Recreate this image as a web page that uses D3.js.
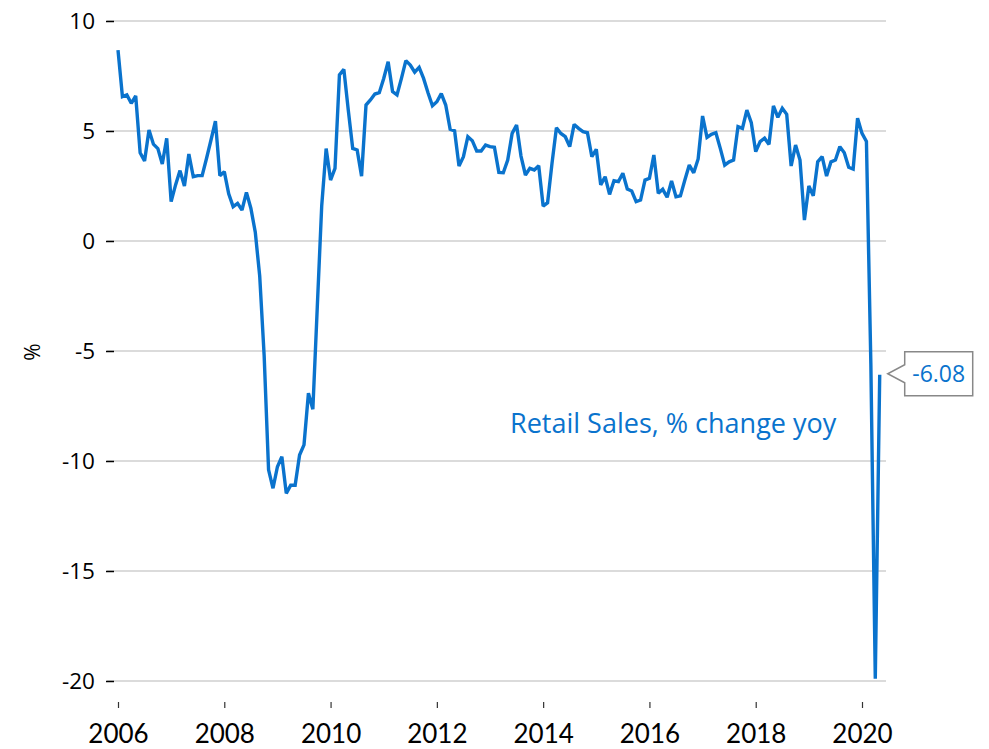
<!DOCTYPE html>
<html>
<head>
<meta charset="utf-8">
<script src="https://cdn.jsdelivr.net/npm/d3@7"></script>
<style>
  html, body { margin: 0; padding: 0; background: #ffffff; }
  svg { display: block; }
</style>
</head>
<body>
<div id="chart"></div>
<script>
// ---- Data (monthly, Jan 2006 .. May 2020) ----
const startYear = 2006;
const seriesName = "Retail Sales, % change yoy";
const yoy2006 = [8.68, 6.56, 6.64, 6.26, 6.60, 4.01, 3.64, 5.05, 4.40, 4.20, 3.50, 4.67];
const yoy2007 = [1.79, 2.55, 3.20, 2.50, 3.95, 2.92, 2.97, 2.97, 3.76, 4.59, 5.45, 2.97];
const yoy2008 = [3.15, 2.14, 1.56, 1.71, 1.41, 2.21, 1.49, 0.40, -1.60, -5.20, -10.40, -11.24];
const yoy2009 = [-10.26, -9.80, -11.47, -11.10, -11.10, -9.73, -9.27, -6.92, -7.65, -3.00, 1.60, 4.20];
const yoy2010 = [2.77, 3.30, 7.55, 7.80, 5.95, 4.21, 4.14, 2.95, 6.18, 6.41, 6.68, 6.74];
const yoy2011 = [7.39, 8.15, 6.79, 6.64, 7.39, 8.20, 8.00, 7.67, 7.89, 7.39, 6.74, 6.15];
const yoy2012 = [6.33, 6.70, 6.18, 5.08, 5.01, 3.41, 3.83, 4.74, 4.56, 4.09, 4.09, 4.36];
const yoy2013 = [4.29, 4.26, 3.12, 3.10, 3.68, 4.89, 5.27, 3.86, 3.00, 3.30, 3.23, 3.42];
const yoy2014 = [1.59, 1.74, 3.53, 5.15, 4.89, 4.74, 4.29, 5.30, 5.12, 4.97, 4.92, 3.83];
const yoy2015 = [4.17, 2.55, 2.92, 2.12, 2.74, 2.70, 3.08, 2.36, 2.27, 1.79, 1.86, 2.77];
const yoy2016 = [2.85, 3.91, 2.17, 2.35, 1.99, 2.73, 2.01, 2.05, 2.77, 3.45, 3.10, 3.73];
const yoy2017 = [5.68, 4.71, 4.85, 4.92, 4.21, 3.45, 3.60, 3.68, 5.20, 5.12, 5.95, 5.38];
const yoy2018 = [4.06, 4.52, 4.67, 4.39, 6.14, 5.62, 6.03, 5.76, 3.41, 4.36, 3.68, 0.95];
const yoy2019 = [2.50, 2.05, 3.60, 3.83, 2.95, 3.60, 3.68, 4.29, 4.01, 3.35, 3.27, 5.58];
const yoy2020 = [4.89, 4.52, -5.60, -19.90, -6.08];

const xTickValues = [2006, 2008, 2010, 2012, 2014, 2016, 2018, 2020];
const yTickValues = [10, 5, 0, -5, -10, -15, -20];
const yAxisTitle = "%";

// ---- Build series ----
const allValues = [].concat(yoy2006, yoy2007, yoy2008, yoy2009, yoy2010, yoy2011,
  yoy2012, yoy2013, yoy2014, yoy2015, yoy2016, yoy2017, yoy2018, yoy2019, yoy2020);
const data = allValues.map((v, i) => ({ t: startYear + i / 12, v: v }));

// ---- Layout ----
const W = 989, H = 749;
const blue = "#0A73CD";
const svg = d3.select("#chart").append("svg").attr("width", W).attr("height", H);

const x = d3.scaleLinear().domain([2006, 2020]).range([118, 862]);
const y = d3.scaleLinear().domain([-20, 10]).range([681, 21]);
const gridLeft = 107, gridRight = 886;
const hyphenFmt = d => String(d);

// Gridlines
svg.append("g").selectAll("line").data(yTickValues).join("line")
  .attr("x1", gridLeft).attr("x2", gridRight)
  .attr("y1", d => y(d)).attr("y2", d => y(d))
  .attr("stroke", "#cfcfcf").attr("stroke-width", 1.5);

// Y axis
const yAxis = d3.axisLeft(y).tickValues(yTickValues).tickSize(8).tickPadding(11)
  .tickFormat(hyphenFmt);
const gy = svg.append("g").attr("transform", `translate(${gridLeft + 7},0)`).call(yAxis);
gy.select(".domain").remove();
gy.selectAll(".tick line").attr("stroke", "#000").attr("stroke-width", 1.5);
gy.selectAll(".tick text").attr("font-family", "'Open Sans', sans-serif")
  .attr("font-size", 22.5).attr("fill", "#000");

// Y title
svg.append("text").attr("transform", "translate(40,352) rotate(-90)")
  .attr("text-anchor", "middle").attr("font-family", "'Open Sans', sans-serif")
  .attr("font-size", 21).attr("fill", "#000").text(yAxisTitle);

// X axis
const xAxis = d3.axisBottom(x).tickValues(xTickValues).tickSize(6).tickPadding(17)
  .tickFormat(d3.format("d"));
const gx = svg.append("g").attr("transform", "translate(0,702)").call(xAxis);
gx.select(".domain").remove();
gx.selectAll(".tick line").attr("stroke", "#333").attr("stroke-width", 1.2);
gx.selectAll(".tick text").attr("font-family", "Lato, sans-serif")
  .attr("font-size", 26).attr("fill", "#000");

// Line
const line = d3.line().x(d => x(d.t)).y(d => y(d.v));
svg.append("path").datum(data).attr("d", line)
  .attr("fill", "none").attr("stroke", blue).attr("stroke-width", 3.4)
  .attr("stroke-linejoin", "miter").attr("stroke-miterlimit", 2);

// Series label
svg.append("text").attr("x", 510).attr("y", 433)
  .attr("font-family", "'Open Sans', sans-serif").attr("font-size", 27)
  .attr("fill", blue).text(seriesName);

// Callout for last value
const last = data[data.length - 1];
const tipX = x(last.t) + 8, tipY = y(last.v) - 1;
const bx = tipX + 17, bw = 68, bh = 44, by = tipY - 22;
svg.append("path")
  .attr("d", `M${bx},${by} H${bx + bw} V${by + bh} H${bx} V${tipY + 9} L${tipX},${tipY} L${bx},${tipY - 9} Z`)
  .attr("fill", "#fff").attr("stroke", "#888").attr("stroke-width", 1.5);
svg.append("text").attr("x", bx + bw / 2).attr("y", tipY + 8.5)
  .attr("text-anchor", "middle").attr("font-family", "'Open Sans', sans-serif")
  .attr("font-size", 23).attr("fill", blue).text(last.v.toFixed(2));
</script>
</body>
</html>
